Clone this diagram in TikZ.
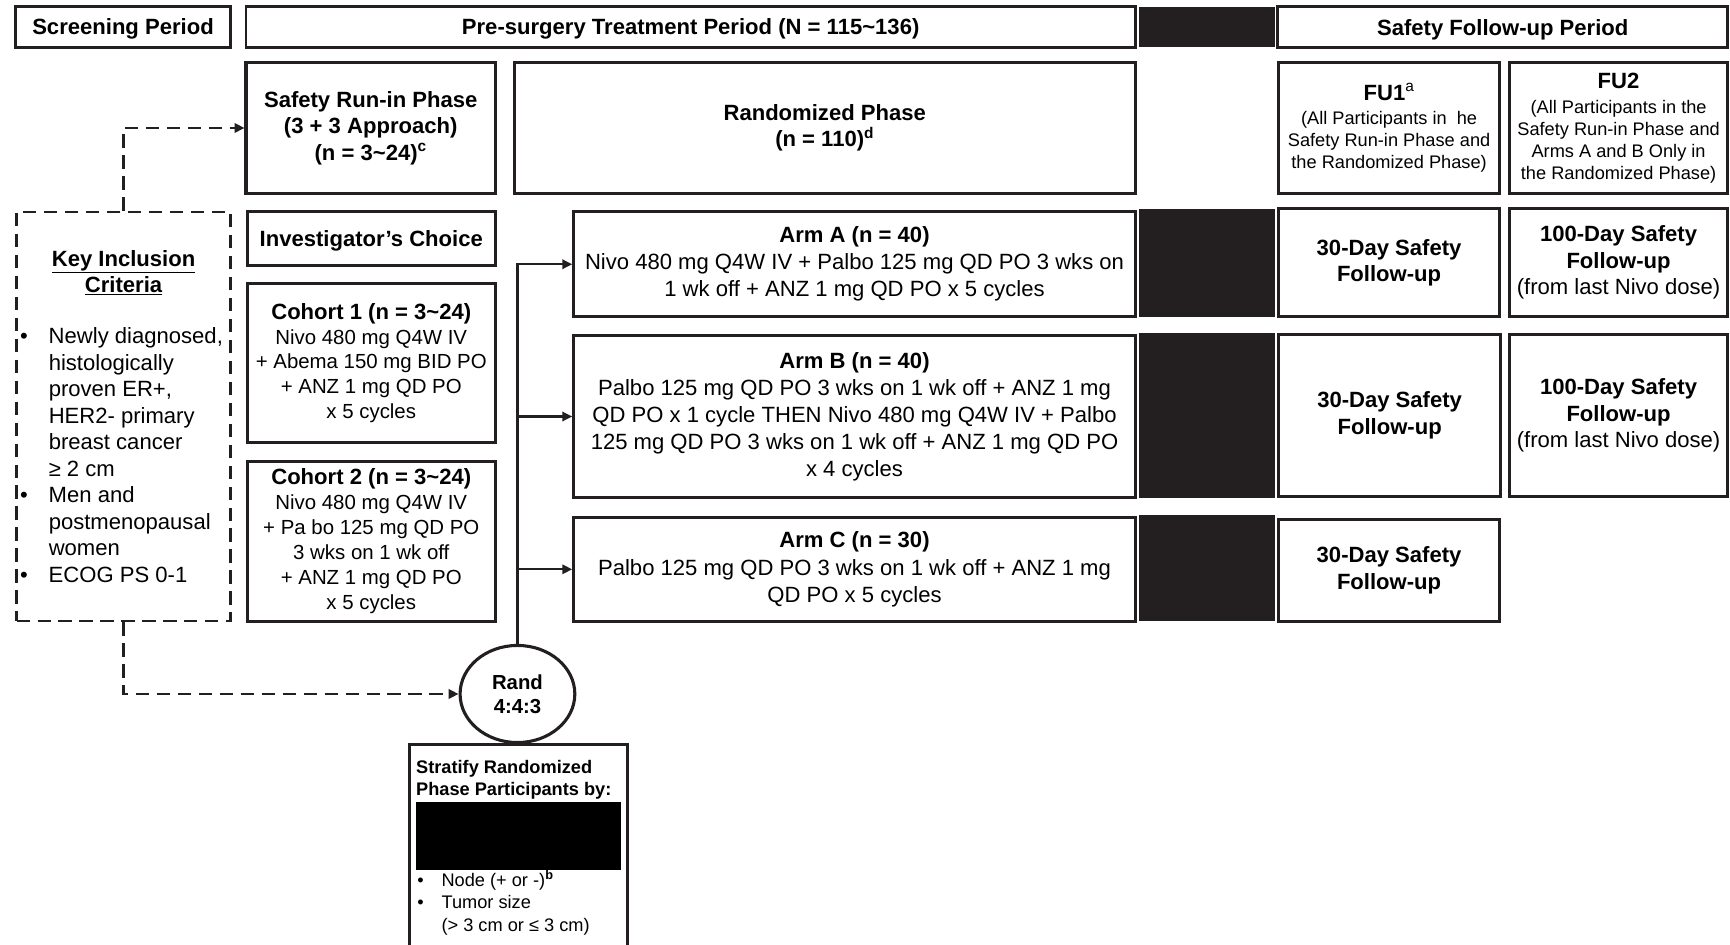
\documentclass[tikz,border=0pt]{standalone}
\usepackage{fontspec}
\setmainfont{Liberation Sans}
\usetikzlibrary{arrows.meta,shapes.geometric}
\definecolor{ink}{RGB}{35,31,32}
\newcommand{\ftB}{\fontsize{20}{24}\selectfont\bfseries}
\newcommand{\ftR}{\fontsize{20}{24}\selectfont}
\newcommand{\ftA}{\fontsize{20}{24.5}\selectfont}
\newcommand{\ftC}{\fontsize{18.5}{22.5}\selectfont}
\newcommand{\ftS}{\fontsize{16.5}{20}\selectfont}
\newcommand{\ftSB}{\fontsize{16.5}{20}\selectfont\bfseries}
\newcommand{\ftRand}{\fontsize{18.4}{22}\selectfont\bfseries}
\tikzset{
  bx/.style={draw=ink, line width=2.8pt, inner sep=0pt, align=center, anchor=center,
    execute at begin node={\rule{0pt}{18.6pt}}},
  hdr/.style={bx, line width=2.4pt, font=\ftB},
  blk/.style={fill=ink, draw=none, inner sep=0pt},
  arr/.style={draw=ink, line width=2pt, -{Triangle[length=9pt,width=8.5pt]}},
  dsh/.style={draw=ink, line width=2.4pt, dash pattern=on 12pt off 7pt},
}
\begin{document}
\begin{tikzpicture}[x=1pt,y=-1pt]
\useasboundingbox (0,0) rectangle (1568,856);
\clip (0,0) rectangle (1568,856);
% header row
\node[hdr, minimum width=195pt, minimum height=37pt] (scr) at (111.5,24.5) {Screening Period};
\node[hdr, minimum width=806pt, minimum height=37pt] (pre) at (626,24.5) {Pre-surgery Treatment Period (N = 115\textasciitilde136)};
\node[blk, minimum width=124pt, minimum height=37pt] (blkh) at (1094,24.5) {};
\node[hdr, minimum width=408pt, minimum height=37pt] (sfp) at (1362,24.5) {Safety Follow-up Period};
% row 2
\node[bx, font=\ftB, minimum width=226pt, minimum height=118pt] (sri) at (336,116) {Safety Run-in Phase\\(3 + 3 Approach)\\(n = 3\textasciitilde24)\textsuperscript{c}};
\node[bx, font=\ftB, minimum width=563pt, minimum height=118pt] (rph) at (747.5,116) {Randomized Phase\\(n = 110)\textsuperscript{d}};
\node[bx, font=\ftS, minimum width=200pt, minimum height=118pt] (fu1) at (1259,116) {{\ftB FU1\textsuperscript{\mdseries a}}\\[2pt](All Participants in \ he\\Safety Run-in Phase and\\the Randomized Phase)};
\node[bx, font=\ftS, minimum width=198pt, minimum height=118pt] (fu2) at (1467,116) {{\ftB FU2}\\[3pt](All Participants in the\\Safety Run-in Phase and\\Arms A and B Only in\\the Randomized Phase)};
% key inclusion
\node[dsh, minimum width=194pt, minimum height=371pt, inner sep=0pt] (kic) at (112,377.5) {};
\node[inner sep=0pt, align=center, font=\ftB] (kicT) at (112,247) {\underline{Key Inclusion}\\\underline{Criteria}};
\node[anchor=north west, inner sep=0pt, align=left, font=\ftR] (kicL) at (18,297) {\makebox[26pt][l]{•}Newly diagnosed,\\\hspace*{26pt}histologically\\\hspace*{26pt}proven ER+,\\\hspace*{26pt}HER2- primary\\\hspace*{26pt}breast cancer\\\hspace*{26pt}≥ 2 cm\\\makebox[26pt][l]{•}Men and\\\hspace*{26pt}postmenopausal\\\hspace*{26pt}women\\\makebox[26pt][l]{•}ECOG PS 0-1};
% safety run-in column
\node[bx, font=\ftB, minimum width=225pt, minimum height=49pt] (inv) at (336.5,216.5) {Investigator’s Choice};
\node[bx, font=\ftC, minimum width=225pt, minimum height=144pt] (co1) at (336.5,329) {{\ftB Cohort 1 (n = 3\textasciitilde24)}\\Nivo 480 mg Q4W IV\\+ Abema 150 mg BID PO\\+ ANZ 1 mg QD PO\\x 5 cycles};
\node[bx, font=\ftC, minimum width=225pt, minimum height=145pt] (co2) at (336.5,490.5) {{\ftB Cohort 2 (n = 3\textasciitilde24)}\\Nivo 480 mg Q4W IV\\+ Pa bo 125 mg QD PO\\3 wks on 1 wk off\\+ ANZ 1 mg QD PO\\x 5 cycles};
% arms
\node[bx, font=\ftA, minimum width=509pt, minimum height=95pt] (armA) at (774.5,239.5) {\textbf{Arm A (n = 40)}\\Nivo 480 mg Q4W IV + Palbo 125 mg QD PO 3 wks on\\1 wk off + ANZ 1 mg QD PO x 5 cycles};
\node[blk, minimum width=124pt, minimum height=98pt] (blkA) at (1094,238) {};
\node[bx, font=\ftB, minimum width=200pt, minimum height=98pt] (d30A) at (1259,238) {30-Day Safety\\Follow-up};
\node[bx, font=\ftR, minimum width=198pt, minimum height=98pt] (d100A) at (1467,238) {\textbf{100-Day Safety}\\\textbf{Follow-up}\\(from last Nivo dose)};
\node[bx, font=\ftA, minimum width=509pt, minimum height=147pt] (armB) at (774.5,377.5) {\textbf{Arm B (n = 40)}\\Palbo 125 mg QD PO 3 wks on 1 wk off + ANZ 1 mg\\QD PO x 1 cycle THEN Nivo 480 mg Q4W IV + Palbo\\125 mg QD PO 3 wks on 1 wk off + ANZ 1 mg QD PO\\x 4 cycles};
\node[blk, minimum width=124pt, minimum height=149pt] (blkB) at (1094,376.5) {};
\node[bx, font=\ftB, minimum width=201pt, minimum height=147pt] (d30B) at (1259.5,376.5) {30-Day Safety\\Follow-up};
\node[bx, font=\ftR, minimum width=198pt, minimum height=147pt] (d100B) at (1467,376.5) {\textbf{100-Day Safety}\\\textbf{Follow-up}\\(from last Nivo dose)};
\node[bx, font=\ftA, minimum width=509pt, minimum height=94pt] (armC) at (774.5,516) {\textbf{Arm C (n = 30)}\\Palbo 125 mg QD PO 3 wks on 1 wk off + ANZ 1 mg\\QD PO x 5 cycles};
\node[blk, minimum width=124pt, minimum height=96pt] (blkC) at (1094,515) {};
\node[bx, font=\ftB, minimum width=200pt, minimum height=92pt] (d30C) at (1259,517) {30-Day Safety\\Follow-up};
% randomization
\node[draw=ink, ellipse, line width=2.8pt, minimum width=104pt, minimum height=88pt, inner sep=0pt, align=center, font=\ftRand] (rand) at (469,629) {Rand\\4:4:3};
\node[draw=ink, line width=2.8pt, inner sep=0pt, minimum width=198pt, minimum height=230pt, anchor=north] (strat) at (470,673) {};
\node[fill=black, inner sep=0pt, minimum width=186pt, minimum height=61pt, anchor=north west] (red) at (377,727) {};
\node[anchor=north west, inner sep=0pt, align=left, font=\ftSB] (stratT) at (377,689) {Stratify Randomized\\Phase Participants by:};
\node[anchor=north west, inner sep=0pt, align=left, font=\ftS] (stratL) at (378,789) {\makebox[22pt][l]{•}Node (+ or -)\textsuperscript{\bfseries b}\\\makebox[22pt][l]{•}Tumor size\\\hspace*{22pt}(> 3 cm or ≤ 3 cm)};
% connectors
\draw[arr] (rand.north) |- (armA.west);
\draw[arr] (rand.north |- armB.west) -- (armB.west);
\draw[arr] (rand.north |- armC.west) -- (armC.west);
\draw[dsh, -{Triangle[length=9pt,width=8.5pt]}] (kic.north) |- (sri.west);
\draw[dsh, -{Triangle[length=9pt,width=8.5pt]}] (kic.south) |- (rand.west);
\end{tikzpicture}
\end{document}
